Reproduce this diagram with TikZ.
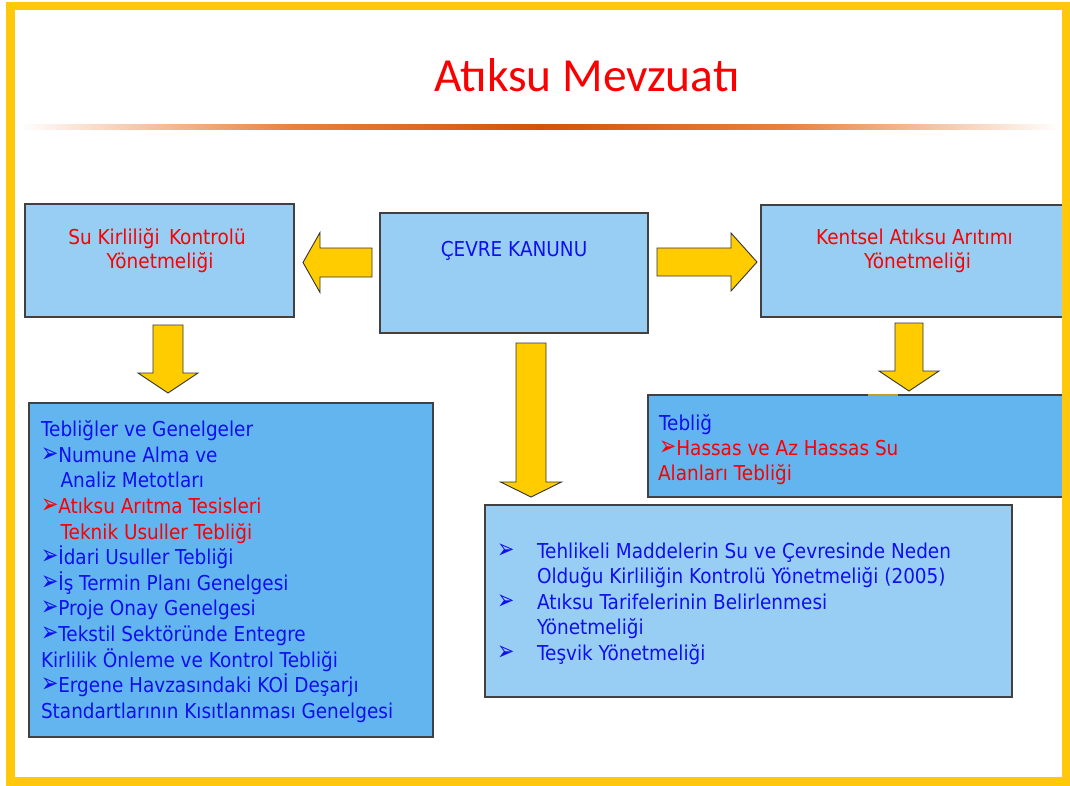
\documentclass[tikz,border=0pt]{standalone}
\usepackage{fontspec}
\usepackage{graphicx}
\setmainfont{DejaVu Sans}[FakeStretch=0.9]
\newfontfamily\titlefont{Carlito}
\usetikzlibrary{calc}
\definecolor{frameyel}{RGB}{255,200,10}
\definecolor{arryel}{RGB}{255,204,0}
\definecolor{lightbox}{RGB}{153,206,244}
\definecolor{darkbox}{RGB}{99,181,239}
\definecolor{tblue}{RGB}{15,15,240}
\definecolor{tred}{RGB}{250,0,0}
\definecolor{ruledark}{RGB}{212,82,8}
\definecolor{rulesoft}{RGB}{232,130,65}
\definecolor{edgecol}{RGB}{65,65,65}
\definecolor{stubcol}{RGB}{190,160,40}
\newcommand\bul{\scalebox{1.12}[1.35]{➢}}
\pgfdeclarehorizontalshading{rulegrad}{100bp}{color(0bp)=(white); color(25bp)=(white); color(38bp)=(rulesoft); color(50bp)=(ruledark); color(62bp)=(rulesoft); color(75bp)=(white); color(100bp)=(white)}
\begin{document}
\begin{tikzpicture}[x=1pt,y=-1pt,
  box/.style={draw=edgecol, line width=1.2pt, anchor=north west, inner sep=0pt, outer sep=0pt},
  txt/.style={font=\fontsize{20.5}{25.6}\selectfont, inner sep=0pt, outer sep=0pt},
  yarrow/.style={fill=arryel, draw=black!80, line width=0.9pt, line join=miter}]
\useasboundingbox[fill=white] (0,0) rectangle (1070,785);

% title and rule
\node[font=\titlefont\fontsize{47.5}{50}\selectfont, text=tred, anchor=base, inner sep=0pt] (title) at (587,91) {Atıksu Mevzuatı};
\shade[shading=rulegrad] (20,124) rectangle (1060,129);

% boxes
\node[box, fill=lightbox, minimum width=269, minimum height=113] (sk) at (25,204) {};
\node[box, fill=lightbox, minimum width=268, minimum height=120] (kanun) at (380,213) {};
\node[box, fill=lightbox, minimum width=303, minimum height=112] (kentsel) at (761,205) {};
\node[box, fill=darkbox, minimum width=416, minimum height=102] (teblig) at (648,395) {};
\node[box, fill=darkbox, minimum width=404, minimum height=334] (liste) at (29,403) {};
\node[box, fill=lightbox, minimum width=527, minimum height=192] (yonet) at (485,505) {};

% block arrows
\coordinate (la) at ($(kanun.west)+(-8,-10.5)$);
\coordinate (ra) at ($(kanun.east)+(9,-11)$);
\coordinate (d1) at ($(sk.south)+(8.5,8)$);
\coordinate (d2) at ($(kanun.south)+(17,10)$);
\coordinate (d3) at ($(kentsel.south)+(-3.5,6)$);
\draw[yarrow] (la) ++(0,-14.5) -- ++(-52,0) -- ++(0,-15.5) -- ++(-17,30) -- ++(17,30) -- ++(0,-15.5) -- ++(52,0) -- cycle;
\draw[yarrow] (ra) ++(0,-14) -- ++(74,0) -- ++(0,-15) -- ++(26,29) -- ++(-26,29) -- ++(0,-15) -- ++(-74,0) -- cycle;
\draw[yarrow] (d1) ++(-15,0) -- ++(30,0) -- ++(0,48) -- ++(15,0) -- ++(-30,20) -- ++(-30,-20) -- ++(15,0) -- cycle;
\draw[yarrow] (d2) ++(-15,0) -- ++(30,0) -- ++(0,139) -- ++(15.5,0) -- ++(-30.5,15) -- ++(-30.5,-15) -- ++(15.5,0) -- cycle;
\draw[yarrow] (d3) ++(-14,0) -- ++(28,0) -- ++(0,48) -- ++(16,0) -- ++(-30,20) -- ++(-30,-20) -- ++(16,0) -- cycle;
\draw[stubcol, line width=1.6pt] ($(teblig.north west)+(220,0)$) -- ($(teblig.north west)+(250,0)$);

% top box texts
\node[txt, text=tred, anchor=base] (sk1) at (157,244.3) {Su Kirliliği\, Kontrolü};
\node[txt, text=tred, anchor=base] (sk2) at (160,268.3) {Yönetmeliği};
\node[txt, text=tblue, anchor=base] (kt) at (514,256) {ÇEVRE KANUNU};
\node[txt, text=tred, anchor=base] (ke1) at (914.5,244.3) {Kentsel Atıksu Arıtımı};
\node[txt, text=tred, anchor=base] (ke2) at (917.5,268.3) {Yönetmeliği};

% right tebliğ box
\node[txt, text=tblue, anchor=base west] (tb1) at (659,430) {Tebliğ};
\node[txt, text=tred, anchor=base west] (tb2) at (659,455) {\bul Hassas ve Az Hassas Su};
\node[txt, text=tred, anchor=base west] (tb3) at (658,480) {Alanları Tebliği};

% left list
\node[txt, text=tblue, anchor=base west] (g1) at (41,436.7) {Tebliğler ve Genelgeler};
\node[txt, text=tblue, anchor=base west] (g2) at (41,462.3) {\bul Numune Alma ve};
\node[txt, text=tblue, anchor=base west] (g3) at (60.5,487.9) {Analiz Metotları};
\node[txt, text=tred, anchor=base west] (g4) at (41,513.5) {\bul Atıksu Arıtma Tesisleri};
\node[txt, text=tred, anchor=base west] (g5) at (60.5,539.1) {Teknik Usuller Tebliği};
\node[txt, text=tblue, anchor=base west] (g6) at (41,564.7) {\bul İdari Usuller Tebliği};
\node[txt, text=tblue, anchor=base west] (g7) at (41,590.3) {\bul İş Termin Planı Genelgesi};
\node[txt, text=tblue, anchor=base west] (g8) at (41,615.9) {\bul Proje Onay Genelgesi};
\node[txt, text=tblue, anchor=base west] (g9) at (41,641.5) {\bul Tekstil Sektöründe Entegre};
\node[txt, text=tblue, anchor=base west] (g10) at (41,667.1) {Kirlilik Önleme ve Kontrol Tebliği};
\node[txt, text=tblue, anchor=base west] (g11) at (41,692.7) {\bul Ergene Havzasındaki KOİ Deşarjı};
\node[txt, text=tblue, anchor=base west] (g12) at (41,718.3) {Standartlarının Kısıtlanması Genelgesi};

% middle list
\node[txt, text=tblue, anchor=base west] (b1) at (497,558) {\bul};
\node[txt, text=tblue, anchor=base west] (b2) at (497,609) {\bul};
\node[txt, text=tblue, anchor=base west] (b3) at (497,660) {\bul};
\node[txt, text=tblue, anchor=base west] (m1) at (537,558) {Tehlikeli Maddelerin Su ve Çevresinde Neden};
\node[txt, text=tblue, anchor=base west] (m2) at (537,583.5) {Olduğu Kirliliğin Kontrolü Yönetmeliği (2005)};
\node[txt, text=tblue, anchor=base west] (m3) at (537,609) {Atıksu Tarifelerinin Belirlenmesi};
\node[txt, text=tblue, anchor=base west] (m4) at (537,634.5) {Yönetmeliği};
\node[txt, text=tblue, anchor=base west] (m5) at (537,660) {Teşvik Yönetmeliği};

% frame
\draw[frameyel, line width=8.5pt] (10.5,6) rectangle (1066,781.5);
\end{tikzpicture}
\end{document}
